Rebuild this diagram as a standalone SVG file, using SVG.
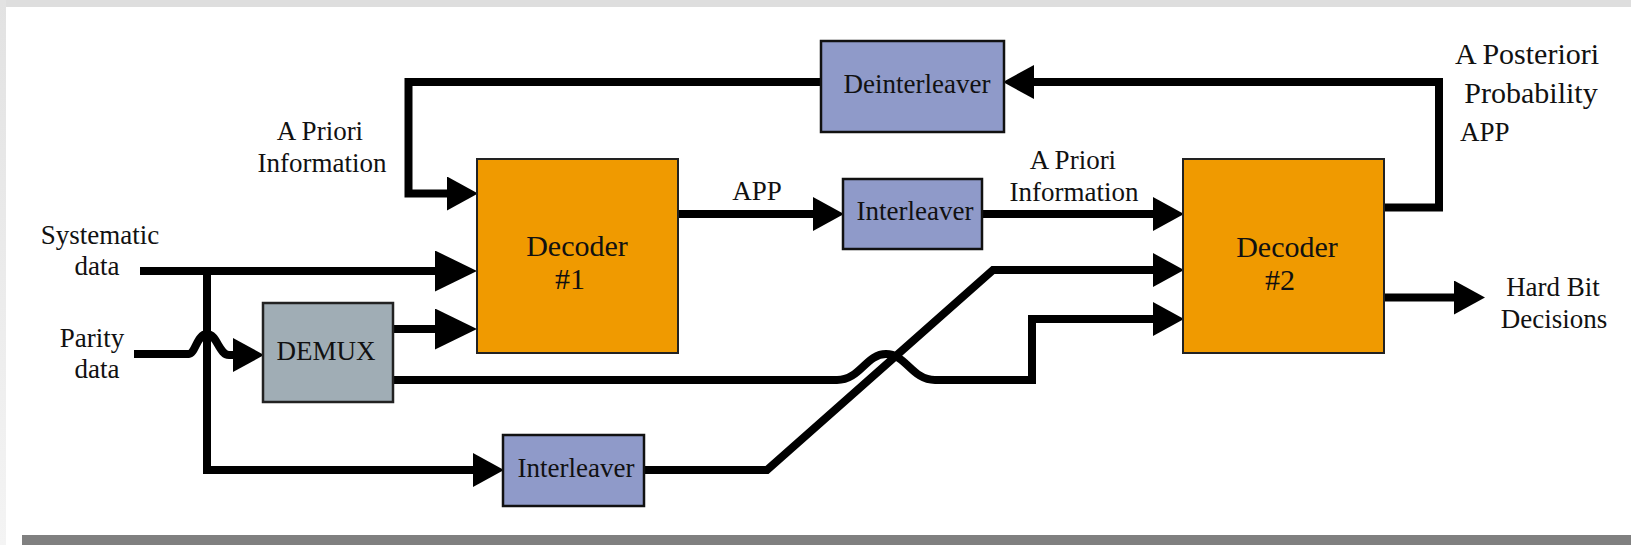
<svg xmlns="http://www.w3.org/2000/svg" width="1631" height="545" viewBox="0 0 1631 545">
  <style>
    text { font-family: "Liberation Serif", "Times New Roman", serif; fill: #111; font-size: 27px; }
    .mid { text-anchor: middle; }
    .big { font-size: 30px; }
    .wire { fill: none; stroke: #000; stroke-width: 8; stroke-linejoin: miter; stroke-linecap: butt; }
    .dec { fill: #F09A00; stroke: #222; stroke-width: 2; }
    .ilv { fill: #8F9AC9; stroke: #111; stroke-width: 2.5; }
    .dmx { fill: #A0ADB5; stroke: #222; stroke-width: 2.5; }
  </style>
  <defs>
    <linearGradient id="edge" x1="0" y1="0" x2="0" y2="1">
      <stop offset="0" stop-color="#e2e2e2"/>
      <stop offset="1" stop-color="#f4f4f4"/>
    </linearGradient>
    <marker id="arr" viewBox="0 0 31 34" markerWidth="31" markerHeight="34" refX="15" refY="17" orient="auto" markerUnits="userSpaceOnUse">
      <path d="M0,0 L31,17 L0,34 Z" fill="#000"/>
    </marker>
    <marker id="arrL" viewBox="0 0 42 41" markerWidth="42" markerHeight="41" refX="21" refY="20.5" orient="auto" markerUnits="userSpaceOnUse">
      <path d="M0,0 L42,20.5 L0,41 Z" fill="#000"/>
    </marker>
  </defs>

  <!-- page background -->
  <rect x="0" y="0" width="1631" height="545" fill="#ffffff"/>
  <rect x="0" y="0" width="1631" height="7" fill="#dedede"/>
  <rect x="0" y="0" width="6" height="545" fill="url(#edge)"/>
  <rect x="22" y="535" width="1609" height="10" fill="#808080"/>

  <!-- connectors -->
  <g id="connectors">
    <!-- systematic data to decoder 1 -->
    <path class="wire" d="M140,271 H456" marker-end="url(#arrL)"/>
    <!-- systematic tap to bottom interleaver -->
    <path class="wire" d="M207,271 V470 H488" marker-end="url(#arr)"/>
    <!-- parity data to DEMUX with hop -->
    <path class="wire" d="M134,354 H189 C195,354 197,334 207,334 C217,334 219,355 229,355 H248" marker-end="url(#arr)"/>
    <!-- DEMUX to decoder 1 -->
    <path class="wire" d="M393,329 H456" marker-end="url(#arrL)"/>
    <!-- DEMUX to decoder 2 with hop -->
    <path class="wire" d="M393,380 H837 C860,380 866,354 886,354 C906,354 912,380 935,380 H1032 V319 H1168" marker-end="url(#arr)"/>
    <!-- bottom interleaver to decoder 2 -->
    <path class="wire" d="M644,470 H767 L993,270 H1168" marker-end="url(#arr)"/>
    <!-- decoder 1 APP to interleaver -->
    <path class="wire" d="M678,214 H828" marker-end="url(#arr)"/>
    <!-- interleaver to decoder 2 -->
    <path class="wire" d="M982,214 H1168" marker-end="url(#arr)"/>
    <!-- decoder 2 feedback to deinterleaver -->
    <path class="wire" d="M1384,207.5 H1439 V82 H1019" marker-end="url(#arr)"/>
    <!-- deinterleaver to decoder 1 -->
    <path class="wire" d="M821,82 H408.5 V193.5 H462" marker-end="url(#arr)"/>
    <!-- decoder 2 hard decisions -->
    <path class="wire" d="M1384,297.5 H1469" marker-end="url(#arr)"/>
  </g>

  <!-- nodes -->
  <g id="decoder1">
    <rect class="dec" x="477" y="159" width="201" height="194"/>
    <text class="mid big" x="577" y="256">Decoder</text>
    <text class="mid big" x="570" y="289">#1</text>
  </g>
  <g id="decoder2">
    <rect class="dec" x="1183" y="159" width="201" height="194"/>
    <text class="mid big" x="1287" y="257">Decoder</text>
    <text class="mid big" x="1280" y="290">#2</text>
  </g>
  <g id="deinterleaver">
    <rect class="ilv" x="821" y="41" width="183" height="91"/>
    <text class="mid" x="917" y="93">Deinterleaver</text>
  </g>
  <g id="interleaver1">
    <rect class="ilv" x="843" y="179" width="139" height="70"/>
    <text class="mid" x="915" y="220">Interleaver</text>
  </g>
  <g id="interleaver2">
    <rect class="ilv" x="503" y="435" width="141" height="71"/>
    <text class="mid" x="576" y="477">Interleaver</text>
  </g>
  <g id="demux">
    <rect class="dmx" x="263" y="303" width="130" height="99"/>
    <text class="mid" x="326" y="360">DEMUX</text>
  </g>

  <!-- labels -->
  <g id="labels">
    <text class="mid" x="320" y="140">A Priori</text>
    <text class="mid" x="322" y="172">Information</text>
    <text class="mid" x="100" y="244">Systematic</text>
    <text class="mid" x="97" y="275">data</text>
    <text class="mid" x="92" y="347">Parity</text>
    <text class="mid" x="97" y="378">data</text>
    <text class="mid" x="757" y="200">APP</text>
    <text class="mid" x="1073" y="169">A Priori</text>
    <text class="mid" x="1074" y="201">Information</text>
    <text class="mid big" x="1527" y="64">A Posteriori</text>
    <text class="mid big" x="1531" y="103">Probability</text>
    <text x="1460" y="141">APP</text>
    <text class="mid" x="1553" y="296">Hard Bit</text>
    <text class="mid" x="1554" y="328">Decisions</text>
  </g>
</svg>
